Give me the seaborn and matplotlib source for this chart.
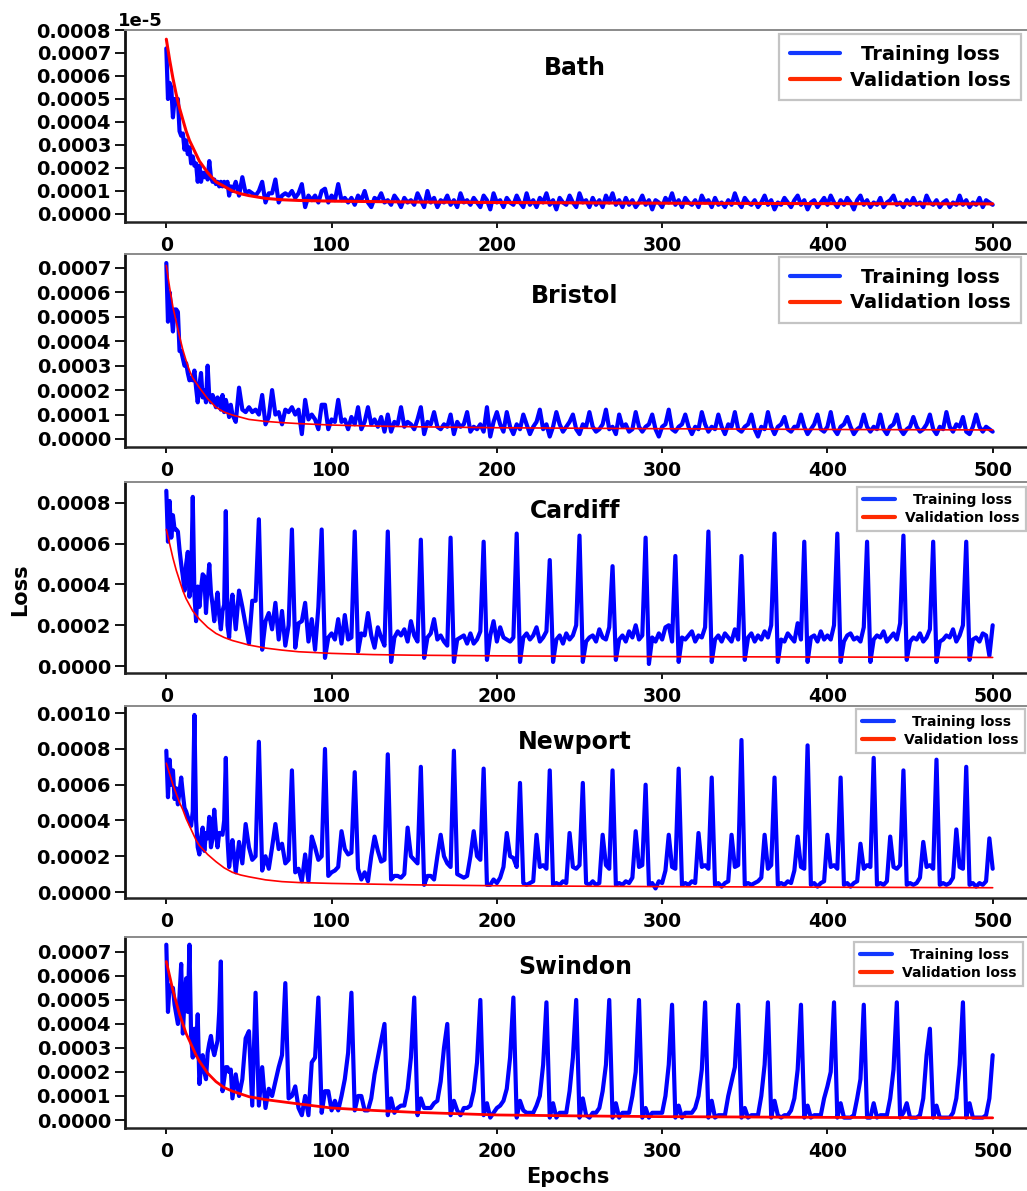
import numpy as np
import matplotlib
matplotlib.use("Agg")
import matplotlib.pyplot as plt
from matplotlib.lines import Line2D
from matplotlib.ticker import FormatStrFormatter
import seaborn as sns

# ------------------------------------------------------------------ data
# training losses in units of 1e-5; epochs 0..39 every epoch, then every 2 epochs up to 500
BATH_TRAIN_E5 = [
    72, 50, 57, 55, 42, 50, 50, 50, 36, 34,
    35, 28, 32, 26, 29, 22, 25, 21, 22, 14,
    21, 14, 18, 16, 18, 15, 23, 16, 14, 15,
    13, 14, 12, 14, 12, 14, 12, 14, 8, 12,
    10, 14, 8, 16, 9, 10, 9, 8, 10, 14,
    5, 9, 9, 15, 5, 8, 9, 8, 10, 7,
    9, 13, 3, 8, 6, 8, 5, 10, 11, 5,
    8, 6, 13, 6, 7, 5, 7, 4, 8, 6,
    10, 5, 3, 7, 6, 9, 5, 6, 4, 8,
    6, 3, 7, 5, 6, 4, 9, 6, 3, 10,
    5, 7, 3, 6, 5, 8, 4, 6, 3, 9,
    5, 6, 4, 7, 5, 3, 8, 6, 2, 9,
    5, 6, 3, 7, 5, 4, 8, 5, 3, 9,
    4, 6, 3, 7, 5, 9, 4, 6, 2, 7,
    5, 4, 8, 5, 3, 9, 5, 6, 3, 7,
    4, 6, 3, 8, 5, 9, 4, 6, 3, 7,
    4, 6, 3, 5, 8, 4, 6, 2, 6, 5,
    3, 7, 5, 9, 4, 6, 3, 7, 5, 4,
    6, 3, 8, 5, 6, 3, 7, 4, 5, 3,
    6, 4, 9, 5, 3, 7, 5, 4, 6, 3,
    5, 8, 4, 6, 2, 5, 4, 7, 5, 3,
    6, 8, 4, 6, 2, 5, 6, 3, 5, 7,
    4, 8, 5, 3, 6, 4, 7, 5, 2, 6,
    8, 4, 6, 3, 5, 4, 7, 3, 5, 6,
    8, 4, 5, 3, 6, 4, 7, 4, 5, 3,
    8, 5, 4, 6, 3, 5, 6, 3, 5, 4,
    8, 4, 6, 3, 5, 4, 7, 3, 6, 5,
    4,
]
BRISTOL_TRAIN_E5 = [
    72, 48, 60, 52, 44, 53, 53, 52, 36, 36,
    33, 30, 31, 27, 24, 25, 24, 28, 21, 15,
    22, 27, 17, 20, 15, 30, 17, 15, 18, 16,
    13, 17, 16, 12, 18, 11, 16, 13, 9, 14,
    10, 7, 21, 12, 11, 13, 11, 12, 10, 18,
    6, 9, 20, 10, 11, 6, 12, 11, 13, 10,
    12, 2, 16, 8, 10, 8, 4, 14, 14, 4,
    8, 7, 16, 7, 8, 4, 9, 6, 13, 4,
    7, 13, 6, 8, 5, 9, 3, 10, 3, 7,
    6, 13, 5, 7, 6, 4, 8, 13, 2, 7,
    6, 11, 5, 4, 6, 5, 10, 2, 7, 5,
    6, 11, 3, 5, 4, 6, 3, 13, 1, 7,
    11, 6, 3, 11, 5, 2, 6, 4, 10, 6,
    2, 5, 7, 12, 4, 6, 1, 5, 11, 6,
    3, 5, 7, 10, 4, 2, 6, 5, 11, 5,
    3, 4, 6, 12, 4, 5, 2, 10, 5, 6,
    3, 4, 11, 5, 3, 5, 6, 10, 4, 1,
    5, 6, 12, 4, 3, 5, 6, 10, 5, 2,
    5, 4, 11, 6, 3, 5, 4, 10, 5, 2,
    6, 5, 11, 4, 3, 5, 6, 10, 4, 1,
    5, 4, 11, 5, 2, 5, 6, 9, 4, 3,
    5, 5, 10, 5, 2, 4, 6, 10, 4, 3,
    5, 11, 4, 2, 5, 6, 9, 5, 2, 4,
    5, 10, 5, 3, 5, 4, 10, 4, 2, 5,
    6, 10, 4, 2, 4, 5, 9, 5, 3, 4,
    6, 10, 4, 2, 5, 4, 11, 5, 3, 6,
    5, 9, 3, 2, 5, 10, 5, 3, 5, 4,
    3,
]
CARDIFF_TRAIN_E5 = [
    86, 61, 81, 63, 74, 67, 67, 66, 57, 50,
    44, 37, 50, 56, 34, 40, 83, 35, 22, 39,
    29, 38, 45, 44, 26, 40, 50, 36, 30, 22,
    30, 36, 25, 18, 27, 30, 76, 20, 14, 29,
    35, 18, 37, 29, 20, 11, 32, 32, 72, 8,
    22, 26, 18, 31, 13, 27, 10, 20, 67, 9,
    21, 22, 31, 12, 23, 8, 29, 67, 4, 14,
    16, 13, 23, 11, 25, 13, 14, 66, 7, 16,
    15, 26, 15, 9, 19, 14, 10, 66, 2, 14,
    17, 15, 18, 12, 22, 15, 12, 62, 4, 14,
    16, 23, 13, 15, 12, 10, 63, 2, 13, 14,
    15, 11, 16, 11, 13, 17, 61, 3, 15, 22,
    12, 19, 14, 13, 12, 14, 65, 2, 14, 16,
    13, 15, 19, 12, 14, 17, 52, 2, 13, 15,
    11, 16, 13, 15, 20, 64, 2, 12, 14, 15,
    12, 18, 14, 13, 19, 49, 3, 13, 15, 12,
    17, 14, 20, 13, 15, 63, 1, 14, 12, 16,
    13, 19, 20, 12, 54, 2, 14, 13, 15, 17,
    12, 15, 14, 19, 66, 2, 13, 15, 12, 16,
    14, 12, 18, 13, 54, 3, 14, 16, 12, 15,
    13, 17, 14, 20, 65, 2, 13, 12, 16, 14,
    12, 21, 13, 61, 2, 14, 15, 12, 17, 13,
    15, 13, 20, 65, 2, 12, 15, 16, 13, 14,
    12, 19, 61, 2, 13, 15, 14, 17, 12, 14,
    16, 13, 21, 64, 3, 12, 14, 13, 16, 12,
    14, 18, 61, 2, 12, 13, 15, 14, 18, 12,
    15, 20, 61, 3, 13, 14, 12, 16, 15, 5,
    20,
]
NEWPORT_TRAIN_E5 = [
    79, 53, 74, 60, 68, 52, 58, 49, 56, 64,
    55, 47, 45, 42, 40, 37, 45, 99, 40, 25,
    21, 30, 36, 23, 33, 30, 42, 25, 30, 46,
    34, 25, 33, 33, 32, 40, 75, 30, 14, 22,
    29, 11, 28, 16, 38, 25, 18, 20, 84, 12,
    20, 13, 25, 38, 24, 27, 16, 18, 68, 11,
    13, 6, 21, 6, 31, 25, 18, 20, 80, 9,
    11, 12, 14, 34, 24, 21, 22, 67, 13, 7,
    11, 6, 20, 31, 23, 17, 18, 77, 7, 9,
    9, 8, 10, 36, 20, 18, 16, 70, 4, 9,
    9, 7, 20, 32, 20, 16, 14, 79, 10, 9,
    8, 9, 20, 34, 20, 18, 69, 4, 4, 7,
    5, 8, 14, 33, 20, 19, 14, 61, 5, 4,
    5, 6, 32, 14, 15, 13, 68, 4, 5, 4,
    6, 5, 33, 14, 13, 15, 61, 5, 4, 6,
    4, 5, 32, 15, 13, 68, 4, 5, 4, 6,
    5, 8, 34, 14, 15, 60, 4, 5, 2, 6,
    5, 12, 32, 14, 13, 69, 4, 5, 4, 6,
    5, 33, 14, 15, 13, 64, 4, 5, 3, 5,
    6, 32, 14, 15, 85, 4, 5, 4, 5, 6,
    8, 32, 13, 15, 64, 4, 5, 4, 6, 5,
    12, 31, 14, 13, 82, 4, 5, 3, 5, 6,
    32, 14, 15, 13, 64, 4, 5, 3, 5, 6,
    27, 13, 15, 14, 75, 4, 5, 4, 6, 31,
    14, 13, 15, 68, 4, 5, 4, 5, 8, 28,
    14, 15, 13, 74, 4, 5, 4, 5, 8, 35,
    14, 13, 70, 4, 5, 3, 5, 4, 6, 30,
    13,
]
SWINDON_TRAIN_E5 = [
    73, 45, 56, 55, 55, 48, 44, 40, 52, 65,
    36, 50, 59, 45, 73, 35, 26, 38, 27, 44,
    15, 22, 27, 20, 17, 28, 32, 35, 30, 27,
    30, 33, 45, 66, 12, 17, 22, 22, 20, 21,
    9, 19, 10, 17, 34, 37, 6, 53, 6, 22,
    5, 13, 10, 16, 22, 27, 57, 9, 10, 14,
    5, 2, 10, 2, 24, 26, 51, 3, 12, 12,
    4, 8, 4, 10, 17, 28, 53, 4, 10, 10,
    4, 4, 9, 19, 26, 33, 40, 2, 9, 3,
    5, 6, 6, 13, 26, 51, 2, 9, 5, 5,
    5, 7, 8, 16, 30, 40, 2, 8, 4, 2,
    5, 5, 6, 12, 24, 50, 2, 7, 1, 3,
    5, 6, 8, 13, 26, 51, 1, 8, 4, 3,
    3, 3, 6, 10, 23, 49, 1, 7, 1, 3,
    3, 3, 12, 26, 50, 1, 9, 2, 1, 3,
    3, 5, 12, 23, 50, 1, 7, 1, 3, 3,
    3, 10, 20, 50, 1, 5, 1, 3, 3, 3,
    3, 10, 23, 48, 1, 6, 1, 3, 3, 3,
    5, 10, 21, 49, 1, 8, 1, 2, 2, 2,
    10, 16, 22, 48, 1, 5, 1, 2, 2, 2,
    10, 23, 49, 1, 8, 2, 1, 2, 2, 4,
    9, 21, 48, 1, 6, 1, 2, 2, 2, 9,
    14, 20, 49, 1, 7, 1, 1, 1, 2, 9,
    17, 48, 1, 1, 7, 1, 2, 2, 2, 9,
    21, 49, 1, 3, 7, 1, 1, 1, 2, 9,
    27, 38, 1, 6, 1, 1, 1, 1, 3, 9,
    23, 49, 1, 7, 1, 1, 1, 1, 2, 9,
    27,
]

# validation losses (units of 1e-5) at the listed epochs
BATH_VAL_EPOCH = [0, 2, 4, 6, 8, 10, 12, 14, 16, 18, 20, 25, 30, 35, 40, 45, 50, 60, 70, 80, 100, 150, 200, 300, 400, 500]
BATH_VAL_E5 = [76, 67, 59, 52, 46, 41, 36, 32, 29, 26, 23, 18, 14, 12, 10, 8.8, 8.0, 6.8, 6.2, 5.9, 5.6, 5.2, 5.0, 4.7, 4.5, 4.4]
BRISTOL_VAL_EPOCH = [0, 2, 4, 6, 8, 10, 12, 14, 16, 18, 20, 25, 30, 35, 40, 50, 60, 70, 80, 100, 125, 150, 200, 300, 400, 500]
BRISTOL_VAL_E5 = [71, 62, 54, 48, 42, 36.5, 32, 28, 25, 23, 21, 16.5, 13, 11, 9.8, 8.0, 7.2, 6.7, 6.3, 5.7, 5.3, 5.0, 4.6, 4.2, 3.9, 3.7]
CARDIFF_VAL_EPOCH = [0, 2, 4, 6, 8, 10, 12, 14, 16, 18, 20, 25, 30, 35, 40, 50, 60, 70, 80, 100, 125, 150, 200, 300, 400, 500]
CARDIFF_VAL_E5 = [67, 60, 53, 47, 42, 37, 33, 30, 27, 25, 23, 19, 16, 14, 12.5, 10.3, 8.8, 7.8, 7.0, 6.2, 5.6, 5.3, 5.0, 4.6, 4.4, 4.2]
NEWPORT_VAL_EPOCH = [0, 2, 4, 6, 8, 10, 12, 14, 16, 18, 20, 25, 30, 35, 40, 45, 50, 60, 70, 80, 100, 150, 200, 300, 400, 500]
NEWPORT_VAL_E5 = [72, 66, 60, 55, 50, 46, 41, 37, 33, 29, 26, 21, 17, 13.5, 11, 9.5, 8.5, 6.8, 5.8, 5.3, 4.8, 4.0, 3.5, 3.0, 2.7, 2.4]
SWINDON_VAL_EPOCH = [0, 2, 4, 6, 8, 10, 12, 14, 16, 18, 20, 25, 30, 35, 40, 50, 60, 70, 80, 100, 125, 150, 200, 250, 300, 400, 500]
SWINDON_VAL_E5 = [66, 60, 54, 49, 44, 40, 36, 33, 30, 27, 24.5, 19.5, 16, 13.5, 12, 9.7, 8.5, 7.6, 6.7, 5.0, 4.0, 3.2, 2.1, 1.7, 1.4, 1.1, 0.9]

CITIES = ["Bath", "Bristol", "Cardiff", "Newport", "Swindon"]
X_TICKS = [0, 100, 200, 300, 400, 500]
LEGEND_LABELS = ["Training loss", "Validation loss"]

# ------------------------------------------------------------------ style
W, H = 1027, 1191
sns.set_style("ticks")
plt.rcParams["font.family"] = ["DejaVu Sans"]
plt.rcParams["font.weight"] = "bold"
for key in ["text.color", "axes.labelcolor", "xtick.color", "ytick.color", "axes.edgecolor"]:
    plt.rcParams[key] = "black"

BLUE = "#0000ff"
RED = "#ff0000"


def fx(px):
    return px / W


def fy(py):
    return 1 - py / H


def train_epochs(n):
    return np.concatenate([np.arange(0, 40), np.arange(40, 40 + 2 * (n - 40), 2)])


panels = [
    dict(train=BATH_TRAIN_E5, ve=BATH_VAL_EPOCH, vv=BATH_VAL_E5, top=30, bottom=222,
         ylim=(-0.0000348, 0.0008), yt=np.arange(0, 0.00081, 0.0001), vlw=2.2,
         leg=(779, 34), legfs=14, title_y=68),
    dict(train=BRISTOL_TRAIN_E5, ve=BRISTOL_VAL_EPOCH, vv=BRISTOL_VAL_E5, top=254, bottom=447,
         ylim=(-0.0000328, 0.000757), yt=np.arange(0, 0.00071, 0.0001), vlw=1.2,
         leg=(779, 257), legfs=14, title_y=296),
    dict(train=CARDIFF_TRAIN_E5, ve=CARDIFF_VAL_EPOCH, vv=CARDIFF_VAL_E5, top=482, bottom=673,
         ylim=(-0.0000343, 0.000903), yt=np.arange(0, 0.00081, 0.0002), vlw=1.2,
         leg=(857, 487), legfs=10, title_y=511),
    dict(train=NEWPORT_TRAIN_E5, ve=NEWPORT_VAL_EPOCH, vv=NEWPORT_VAL_E5, top=706, bottom=898,
         ylim=(-0.0000335, 0.00104), yt=np.arange(0, 0.00101, 0.0002), vlw=1.2,
         leg=(856, 709), legfs=10, title_y=742),
    dict(train=SWINDON_TRAIN_E5, ve=SWINDON_VAL_EPOCH, vv=SWINDON_VAL_E5, top=937, bottom=1128,
         ylim=(-0.0000333, 0.000762), yt=np.arange(0, 0.00071, 0.0001), vlw=2.0,
         leg=(854, 942), legfs=10, title_y=967),
]

fig = plt.figure(figsize=(W / 100, H / 100), dpi=100)
legends = []

for city, p in zip(CITIES, panels):
    ax = fig.add_axes([fx(125), fy(p["bottom"]), (1034 - 125) / W, (p["bottom"] - p["top"]) / H])
    tr = np.array(p["train"], dtype=float) * 1e-5
    ep = train_epochs(len(tr))
    sns.lineplot(x=ep, y=tr, ax=ax, color=BLUE, linewidth=3.0, estimator=None, legend=False)
    sns.lineplot(x=np.array(p["ve"]), y=np.array(p["vv"]) * 1e-5, ax=ax, color=RED,
                 linewidth=p["vlw"], estimator=None, legend=False, zorder=3)
    ax.set_xlim(-25, 525)
    ax.set_ylim(*p["ylim"])
    ax.set_xticks(X_TICKS)
    ax.set_yticks(p["yt"])
    ax.yaxis.set_major_formatter(FormatStrFormatter("%.4f"))
    ax.set_xlabel("")
    ax.set_ylabel("")
    ax.tick_params(axis="y", length=7, width=1.3, pad=3, labelsize=14, color="black", labelcolor="black")
    ax.tick_params(axis="x", length=4, width=1.3, pad=6, labelsize=13.5, color="black", labelcolor="black")
    ax.spines["right"].set_visible(False)
    ax.spines["top"].set_color("#8a8a8a")
    ax.spines["top"].set_linewidth(1.4)
    ax.spines["left"].set_color("#111111")
    ax.spines["left"].set_linewidth(2.0)
    ax.spines["bottom"].set_color("#222222")
    ax.spines["bottom"].set_linewidth(1.8)

    big = p["legfs"] > 12
    handles = [Line2D([], [], color="#1238ff", lw=3.0), Line2D([], [], color="#ff2a00", lw=3.0)]
    leg = ax.legend(handles, LEGEND_LABELS, loc="upper left",
                    bbox_to_anchor=(fx(p["leg"][0]), fy(p["leg"][1])),
                    bbox_transform=fig.transFigure,
                    prop={"size": p["legfs"], "weight": "bold"},
                    frameon=True, fancybox=False, framealpha=1, edgecolor="#c4c4c4",
                    handlelength=2.6 if big else 2.3,
                    handletextpad=0.5 if big else 0.7,
                    labelspacing=0.35 if big else 0.25,
                    borderpad=0.55 if big else 0.45,
                    borderaxespad=0)
    leg.get_frame().set_linewidth(1.6)
    for t in leg.get_texts():
        t.set_color("black")
    legends.append(leg)

    fig.text(fx(575), fy(p["title_y"]), city, ha="center", va="center", fontsize=17,
             fontweight="bold", color="black")

fig.text(fx(140), fy(21), "1e-5", ha="center", va="center", fontsize=13, fontweight="bold", color="black")
fig.text(fx(20), fy(590), "Loss", rotation=90, ha="center", va="center", fontsize=15,
         fontweight="bold", color="black")
fig.text(fx(568), fy(1177), "Epochs", ha="center", va="center", fontsize=15, fontweight="bold", color="black")

# centre the shorter legend label over the longer one, as in the reference
fig.canvas.draw()
renderer = fig.canvas.get_renderer()
for leg in legends:
    t0, t1 = leg.get_texts()
    w0 = t0.get_window_extent(renderer).width
    w1 = t1.get_window_extent(renderer).width
    t0.set_x((w1 - w0) / 2.0)

fig.savefig("out.png", dpi=100)
